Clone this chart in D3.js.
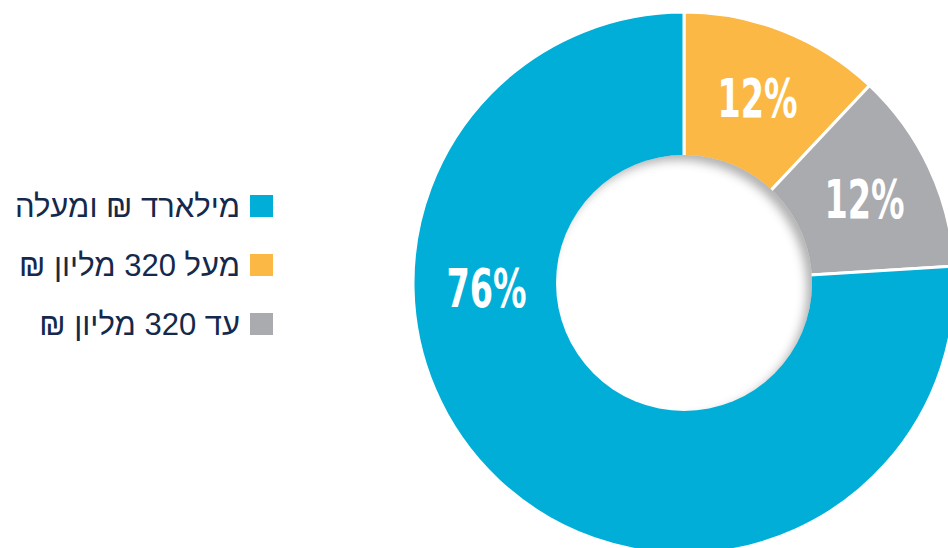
<!DOCTYPE html>
<html lang="he">
<head>
<meta charset="utf-8"/>
<title>Donut</title>
<script src="https://d3js.org/d3.v7.min.js"></script>
<style>
  body { margin: 0; background: #fff; }
  .legend text { font-family: "Liberation Sans", Arial, sans-serif; font-size: 31px; fill: #14294c; }
  .lbl { font-family: "DejaVu Sans", sans-serif; font-weight: bold; font-size: 54px; fill: #fff; }
</style>
</head>
<body>
<div id="chart"></div>
<script>
// data
var labels = ["מעל 320 מליון ₪", "עד 320 מליון ₪", "מילארד ₪ ומעלה"];
var values = [12, 12, 76];
var colors = ["#fcb844", "#aaabaf", "#00aed8"];
// legend order (top to bottom)
var legendOrder = [2, 0, 1];

var width = 948, height = 548;
var cx = 684, cy = 283, outerR = 271, innerR = 128;

var svg = d3.select("#chart").append("svg")
    .attr("width", width)
    .attr("height", height);

var defs = svg.append("defs");
var f = defs.append("filter").attr("id", "inset")
    .attr("x", "-20%").attr("y", "-20%").attr("width", "140%").attr("height", "140%");
f.append("feFlood").attr("flood-color", "#000").attr("flood-opacity", 0.55).attr("result", "c");
f.append("feComposite").attr("in", "c").attr("in2", "SourceAlpha").attr("operator", "out").attr("result", "inv");
f.append("feOffset").attr("in", "inv").attr("dx", -6).attr("dy", 6).attr("result", "off");
f.append("feGaussianBlur").attr("in", "off").attr("stdDeviation", 5).attr("result", "blur");
f.append("feComposite").attr("in", "blur").attr("in2", "SourceAlpha").attr("operator", "in").attr("result", "sh");
var m = f.append("feMerge");
m.append("feMergeNode").attr("in", "SourceGraphic");
m.append("feMergeNode").attr("in", "sh");

var pie = d3.pie().sort(null).value(function(d) { return d; });
var arcs = pie(values);

var arc = d3.arc().innerRadius(0).outerRadius(outerR);
var labelArc = d3.arc().innerRadius(innerR).outerRadius(outerR);

var g = svg.append("g").attr("transform", "translate(" + cx + "," + cy + ")");

g.selectAll("path")
  .data(arcs)
  .enter().append("path")
    .attr("d", arc)
    .attr("fill", function(d, i) { return colors[i]; })
    .attr("stroke", "#fff")
    .attr("stroke-width", 3)
    .attr("stroke-linejoin", "round");

// hole
g.append("circle")
    .attr("r", innerR)
    .attr("fill", "#fff")
    .attr("filter", "url(#inset)");

g.selectAll("text.lbl")
  .data(arcs)
  .enter().append("text")
    .attr("class", "lbl")
    .attr("text-anchor", "middle")
    .attr("dy", "0.36em")
    .attr("transform", function(d, i) {
      var p;
      if (d.value > 50) {
        // big slice: label sits on the left side of the ring
        var r = (innerR + outerR) / 2;
        p = [-r + 2, 5];
      } else {
        p = labelArc.centroid(d);
      }
      return "translate(" + p[0] + "," + p[1] + ") scale(0.62,1)";
    })
    .text(function(d) { return d.value + "%"; });

// legend
var legend = svg.append("g").attr("class", "legend")
  .selectAll("g")
  .data(legendOrder)
  .enter().append("g")
    .attr("transform", function(d, i) { return "translate(0," + (195 + i * 59) + ")"; });

legend.append("rect")
    .attr("x", 250)
    .attr("width", 23)
    .attr("height", 22)
    .attr("fill", function(d) { return colors[d]; });

legend.append("text")
    .attr("x", 240)
    .attr("y", 22)
    .attr("text-anchor", "end")
    .text(function(d) { return "\u202B" + labels[d] + "\u202C"; });
</script>
</body>
</html>
